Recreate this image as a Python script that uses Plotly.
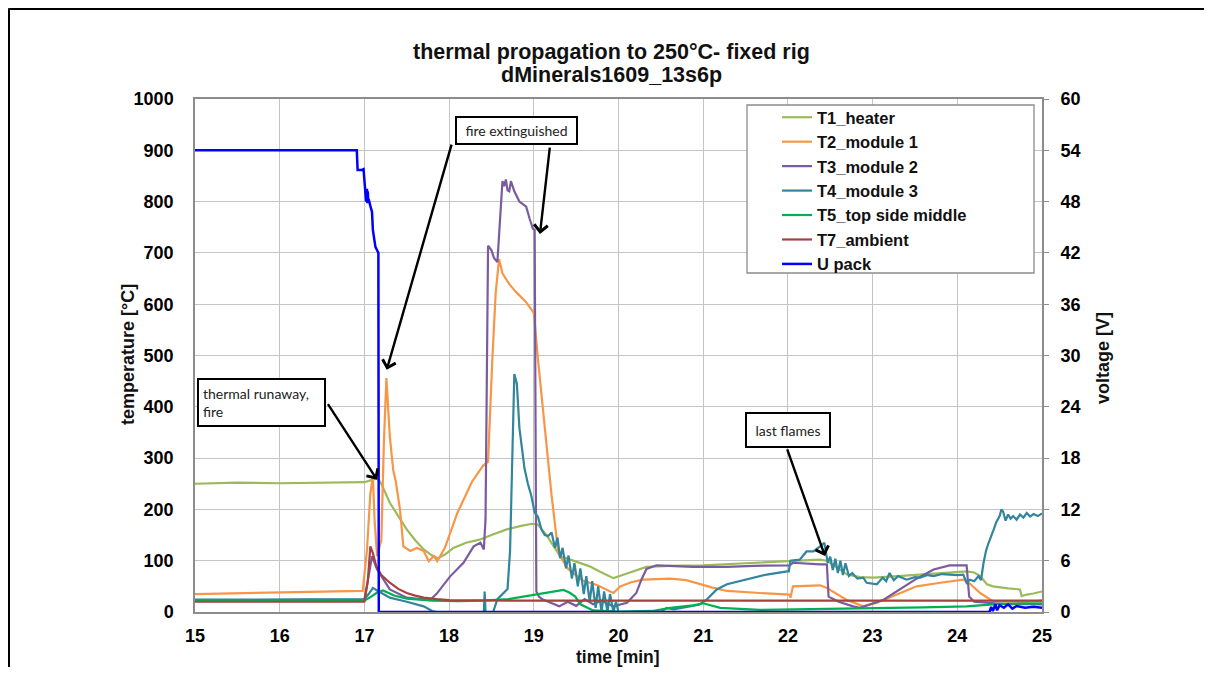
import plotly.graph_objects as go

# ---------------- text ----------------
TITLE_1 = "thermal propagation to 250°C- fixed rig"
TITLE_2 = "dMinerals1609_13s6p"
X_TITLE = "time [min]"
Y_TITLE = "temperature [°C]"
Y2_TITLE = "voltage [V]"

x_ticks = list(range(15, 26))
y_ticks = list(range(0, 1001, 100))
y2_ticks = list(range(0, 61, 6))

# ---------------- data ----------------
t1_t = [15, 15.5, 16, 16.5, 16.9, 17.0, 17.1, 17.15, 17.2, 17.3, 17.4, 17.5, 17.6, 17.7, 17.8, 17.87,
        17.95, 18.05, 18.2, 18.36, 18.5, 18.68, 18.85, 18.98, 19.05, 19.15, 19.31, 19.5, 19.66, 19.8,
        19.94, 20.1, 20.33, 20.6, 21.0, 21.5, 22.02, 22.38, 22.46, 22.55, 22.7, 22.85, 23.01, 23.3,
        23.56, 23.8, 24.11, 24.2, 24.27, 24.35, 24.42, 24.6, 24.74, 24.76, 24.82, 24.9, 25.0]
t1_v = [250, 252, 251, 252, 252, 253, 258, 261, 250, 213, 187, 161, 140, 122, 110, 105,
        112, 125, 135, 141, 150, 161, 168, 172, 170, 150, 109, 98, 89, 77,
        66, 75, 88, 90, 91, 95, 100, 102, 100, 90, 73, 68, 67, 70,
        73, 75, 79, 77, 70, 54, 50, 46, 44, 31, 34, 36, 40]

t2_t = [15, 16, 16.98, 17.03, 17.07, 17.1, 17.12, 17.15, 17.2, 17.23, 17.26, 17.3, 17.34, 17.37,
        17.42, 17.46, 17.54, 17.62, 17.7, 17.76, 17.82, 17.86, 17.95, 18.1, 18.27, 18.4, 18.46,
        18.51, 18.55, 18.59, 18.63, 18.71, 18.8, 18.9, 19.0, 19.05, 19.13, 19.21, 19.29, 19.4,
        19.57, 19.75, 19.94, 20.02, 20.15, 20.29, 20.45, 20.61, 20.8, 20.96, 21.1, 21.28, 21.5,
        21.67, 22.02, 22.03, 22.06, 22.2, 22.38, 22.46, 22.55, 22.69, 22.89, 23.05, 23.3, 23.52,
        23.8, 24.07, 24.15, 24.27, 24.42, 24.6, 24.8, 25.0]
t2_v = [35, 38, 41, 120, 230, 265, 180, 109, 140, 330, 456, 342, 277, 255,
        200, 128, 119, 125, 119, 99, 109, 99, 125, 194, 254, 285, 293,
        491, 622, 688, 660, 639, 622, 606, 583, 491, 359, 227, 115, 85,
        62, 52, 37, 50, 58, 63, 64, 65, 62, 54, 48, 41, 38,
        37, 34, 28, 50, 51, 52, 47, 38, 24, 11, 18, 35, 50,
        57, 63, 55, 37, 21, 20, 20, 22]

t3_t = [15, 16, 17.0, 17.05, 17.09, 17.15, 17.3, 17.5, 17.7, 17.77, 17.85, 17.92, 18.01, 18.17,
        18.29, 18.37, 18.41, 18.43, 18.46, 18.5, 18.53, 18.57, 18.6, 18.63, 18.65, 18.67, 18.69,
        18.71, 18.73, 18.77, 18.83, 18.91, 18.95, 18.99, 19.01, 19.03, 19.06, 19.1, 19.2, 19.3,
        19.4, 19.5, 19.6, 19.7, 19.8, 19.94, 20.1, 20.21, 20.27, 20.33, 20.45, 20.88, 21.28, 21.6,
        22.02, 22.06, 22.38, 22.46, 22.48, 22.6, 22.77, 22.85, 23.13, 23.32, 23.52, 23.72, 23.91,
        24.11, 24.14, 24.2, 24.4, 24.6, 24.8, 25.0]
t3_v = [23, 23, 24, 70, 109, 83, 44, 28, 24, 23, 35, 50, 69, 96,
        128, 135, 122, 180, 714, 705, 690, 682, 760, 840, 830, 843, 822,
        820, 840, 820, 800, 790, 767, 747, 745, 40, 30, 25, 18, 11,
        20, 12, 25, 15, 22, 11, 18, 37, 63, 84, 91, 88, 88, 90,
        91, 96, 93, 93, 30, 20, 11, 8, 24, 44, 65, 83, 91,
        91, 30, 20, 18, 15, 16, 15]

t4_t = [15, 16, 17.0, 17.05, 17.1, 17.15, 17.3, 17.5, 17.7, 17.8, 17.85, 18.41, 18.42, 18.43,
        18.52, 18.57, 18.65, 18.69, 18.72, 18.75, 18.77, 18.8, 18.83, 18.89, 18.93, 18.97, 19.01,
        19.05, 19.09, 19.13, 19.17, 19.21, 19.25, 19.28, 19.31, 19.34, 19.38, 19.41, 19.45, 19.48,
        19.52, 19.55, 19.59, 19.62, 19.66, 19.69, 19.73, 19.76, 19.8, 19.83, 19.87, 19.9, 19.94,
        19.97, 20.0, 20.5, 20.57, 20.65, 20.8, 20.95, 21.04, 21.16, 21.28, 21.51, 21.75, 21.99,
        22.01, 22.03, 22.14, 22.22, 22.3, 22.38, 22.43, 22.47, 22.5, 22.53, 22.56, 22.59, 22.62,
        22.65, 22.68, 22.72, 22.76, 22.82, 22.89, 22.93, 23.0, 23.05, 23.12, 23.16, 23.2, 23.25,
        23.3, 23.4, 23.5, 23.56, 23.65, 23.72, 23.82, 23.91, 24.0, 24.07, 24.11, 24.15, 24.2,
        24.25, 24.28, 24.31, 24.34, 24.37, 24.4, 24.43, 24.46, 24.5, 24.52, 24.54, 24.57, 24.6,
        24.63, 24.66, 24.7, 24.74, 24.78, 24.82, 24.86, 24.9, 24.95, 25.0]
t4_v = [24, 24, 25, 35, 47, 42, 28, 20, 11, 2, 0, 0, 40, 0,
        0, 25, 38, 45, 120, 359, 464, 445, 359, 280, 250, 227, 194,
        185, 161, 150, 148, 155, 125, 145, 105, 125, 85, 110, 65, 95,
        50, 85, 35, 70, 20, 60, 8, 50, 0, 40, 0, 35, 0,
        20, 0, 0, 8, 5, 10, 14, 24, 44, 54, 63, 73, 79,
        79, 100, 102, 118, 118, 128, 135, 96, 108, 82, 104, 76, 100,
        72, 95, 70, 76, 65, 67, 57, 55, 54, 67, 60, 76, 62,
        70, 63, 68, 67, 72, 70, 74, 73, 72, 73, 57, 63, 60,
        70, 62, 96, 120, 135, 150, 161, 175, 187, 200, 196, 178, 190,
        182, 187, 180, 190, 184, 193, 186, 191, 187, 192]

t5_t = [15, 16, 17.0, 17.08, 17.15, 17.22, 17.35, 17.5, 17.8, 18.1, 18.4, 18.7, 19.09, 19.35,
        19.42, 19.49, 19.55, 19.61, 19.7, 20.0, 20.4, 20.61, 20.88, 21.0, 21.2, 21.67, 22.1, 22.6,
        23.0, 23.6, 24.11, 24.5, 25.0]
t5_v = [22, 22, 22, 30, 38, 42, 32, 26, 22, 21, 22, 25, 36, 43,
        38, 30, 15, 10, 3, 1, 2, 8, 13, 17, 8, 4, 5, 6,
        7, 9, 11, 16, 17]

t7_t = [15, 16, 17.0, 17.04, 17.07, 17.1, 17.14, 17.2, 17.3, 17.4, 17.5, 17.6, 17.7, 17.85, 18.0,
        19, 20, 21, 22, 23, 24, 25]
t7_v = [20, 20, 20, 60, 128, 115, 89, 72, 57, 45, 37, 32, 28, 25, 23,
        22, 22, 22, 22, 22, 22, 22]

u_t = [15, 16, 16.91, 16.92, 16.97, 16.99, 17.01, 17.02, 17.03, 17.035, 17.04, 17.045, 17.05, 17.07,
       17.09, 17.1, 17.13, 17.16, 17.165, 17.17, 20.0, 23.0, 24.38, 24.4, 24.42, 24.45, 24.47,
       24.5, 24.55, 24.6, 24.65, 24.7, 24.8, 24.9, 25.0]
u_v = [54, 54, 54, 51.7, 51.7, 51.8, 49.4, 48.0, 49.5, 47.8, 49.2, 48.1, 48.3, 47.5,
       46.8, 44.7, 42.7, 42.1, 42.0, 0, 0, 0, 0, 0.6, 0.1, 0.9, 0.2,
       0.8, 0.5, 0.9, 0.4, 0.7, 0.5, 0.6, 0.5]

series = [
    ("T1_heater", t1_t, t1_v, "#9BBB59", "y"),
    ("T2_module 1", t2_t, t2_v, "#F79646", "y"),
    ("T3_module 2", t3_t, t3_v, "#7A5C9E", "y"),
    ("T4_module 3", t4_t, t4_v, "#31859C", "y"),
    ("T5_top side middle", t5_t, t5_v, "#00B050", "y"),
    ("T7_ambient", t7_t, t7_v, "#A5423F", "y"),
    ("U pack", u_t, u_v, "#0000FF", "y2"),
]

fig = go.Figure()
for name, tx, vy, col, ax in series:
    fig.add_trace(go.Scatter(x=tx, y=vy, name=name, mode="lines", yaxis=ax,
                             line=dict(color=col, width=2.5 if ax == "y2" else 2.2)))

TICKFONT = dict(family="Liberation Sans, Arial", size=18, color="#000000", weight="bold")
GRID = "#C4C4C4"
BORDER = "#8C8C8C"

# page has an 8px body margin: figure is 8px smaller and all page positions shift by 8
fig.update_layout(
    width=1196, height=659,
    margin=dict(l=187, r=162, t=91, b=55),
    plot_bgcolor="white", paper_bgcolor="white",
    showlegend=True,
    xaxis=dict(range=[15, 25], tickvals=x_ticks, showgrid=True, gridcolor=GRID, gridwidth=1.3,
               showline=True, linecolor=BORDER, linewidth=1.5, mirror=True, zeroline=False,
               ticks="", tickfont=TICKFONT, ticklabelstandoff=7, layer="below traces"),
    yaxis=dict(range=[0, 1000], tickvals=y_ticks, showgrid=True, gridcolor=GRID, gridwidth=1.3,
               showline=True, linecolor=BORDER, linewidth=1.5, mirror=True, zeroline=False,
               ticks="", tickfont=TICKFONT, ticklabelstandoff=16, layer="below traces"),
    yaxis2=dict(range=[0, 60], tickvals=y2_ticks, overlaying="y", side="right", showgrid=False,
                zeroline=False, showline=False, ticks="outside", ticklen=6, tickcolor=BORDER,
                tickwidth=1.3, tickfont=TICKFONT, ticklabelstandoff=8),
)


def px_x(p):
    # page pixel -> paper x
    return (p - 195) / 847


def px_y(p):
    # page pixel -> paper y
    return (612 - p) / 513


fig.update_layout(
    legend=dict(x=px_x(777), y=px_y(100), xanchor="left", yanchor="top",
                bgcolor="rgba(0,0,0,0)", borderwidth=0, itemwidth=30,
                font=dict(family="Liberation Sans, Arial", size=16.5, color="#111111", weight="bold"),
                tracegroupgap=0),
)

shapes = [
    # legend box
    dict(type="rect", xref="paper", yref="paper", x0=px_x(747), x1=px_x(1034), y0=px_y(273), y1=px_y(105),
         fillcolor="white", line=dict(color="#8C8C8C", width=1.3), layer="above"),
    # outer frame
    dict(type="line", xref="paper", yref="paper", x0=px_x(8.5), x1=px_x(1230), y0=px_y(8.5), y1=px_y(8.5),
         line=dict(color="black", width=3)),
    dict(type="line", xref="paper", yref="paper", x0=px_x(8.5), x1=px_x(8.5), y0=px_y(8.5), y1=px_y(700),
         line=dict(color="black", width=3)),
]
fig.update_layout(shapes=shapes)

BOXFONT = dict(family="Lato, Open Sans", size=14, color="#222222")
TXT = dict(family="Liberation Sans, Arial", color="#111111")
annotations = [
    dict(text="<b>" + TITLE_1 + "</b>", xref="paper", yref="paper", x=px_x(611), y=px_y(52),
         showarrow=False, xanchor="center", yanchor="middle", font=dict(size=21.5, **TXT)),
    dict(text="<b>" + TITLE_2 + "</b>", xref="paper", yref="paper", x=px_x(611), y=px_y(75),
         showarrow=False, xanchor="center", yanchor="middle", font=dict(size=21.5, **TXT)),
    dict(text="<b>" + X_TITLE + "</b>", xref="paper", yref="paper", x=px_x(618), y=px_y(657),
         showarrow=False, xanchor="center", yanchor="middle", font=dict(size=17.5, **TXT)),
    dict(text="<b>" + Y_TITLE + "</b>", xref="paper", yref="paper", x=px_x(128), y=px_y(355),
         showarrow=False, xanchor="center", yanchor="middle", textangle=-90, font=dict(size=18, **TXT)),
    dict(text="<b>" + Y2_TITLE + "</b>", xref="paper", yref="paper", x=px_x(1103), y=px_y(358),
         showarrow=False, xanchor="center", yanchor="middle", textangle=-90, font=dict(size=18, **TXT)),
    # boxes
    dict(text="thermal runaway,<br>fire", xref="x", yref="y", x=15.785, y=409, showarrow=False,
         align="left", width=117, height=37, bordercolor="black", borderwidth=2, borderpad=4,
         bgcolor="white", font=BOXFONT),
    dict(text="fire extinguished", xref="x", yref="y", x=18.79, y=938, showarrow=False,
         align="center", width=111, height=17, bordercolor="black", borderwidth=2, borderpad=4,
         bgcolor="white", font=BOXFONT),
    dict(text="last flames", xref="x", yref="y", x=22.001, y=355, showarrow=False,
         align="center", width=74, height=24, bordercolor="black", borderwidth=2, borderpad=4,
         bgcolor="white", font=BOXFONT),
]
arrows = [
    (16.558, 408, 17.149, 258),
    (18.034, 914, 17.263, 472),
    (19.191, 908, 19.073, 737),
    (21.986, 320, 22.438, 109),
]
for ax_, ay_, hx, hy in arrows:
    annotations.append(dict(text="", xref="x", yref="y", axref="x", ayref="y", x=hx, y=hy,
                            ax=ax_, ay=ay_, showarrow=True, arrowhead=4, arrowsize=1.1,
                            arrowwidth=2.4, arrowcolor="black", standoff=0, startstandoff=0))
fig.update_layout(annotations=annotations)

fig.write_html("out.html")
